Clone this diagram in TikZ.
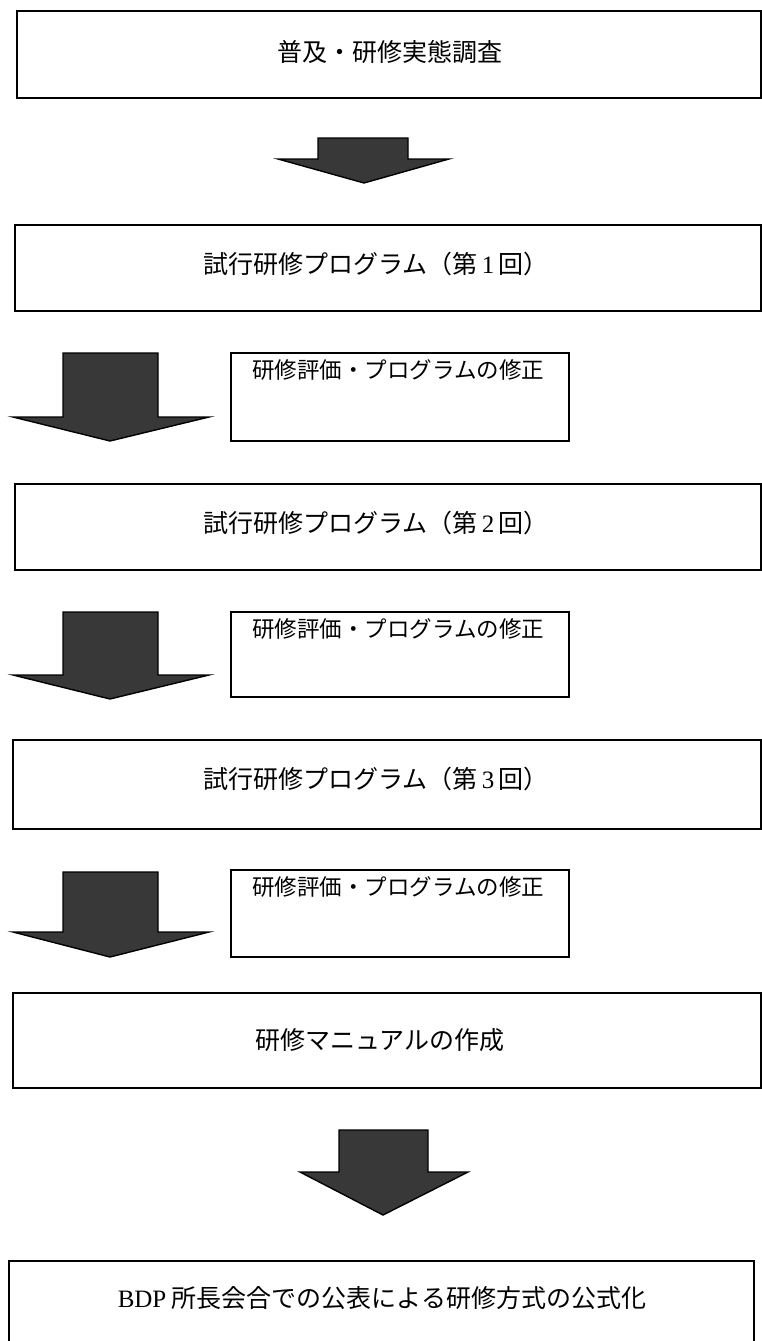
\documentclass[tikz,border=0pt]{standalone}
\usepackage{fontspec}
\setmainfont{Noto Sans CJK JP}
\newfontfamily\latn{Liberation Serif}
\begin{document}
\begin{tikzpicture}[x=1pt,y=-1pt,
  mainbox/.style={draw=black,line width=1.8pt,anchor=north west,inner sep=0pt},
  smallbox/.style={draw=black,line width=1.8pt,anchor=north west,inner sep=0pt},
  txt/.style={font=\fontsize{25}{28}\selectfont,inner sep=0pt},
  stxt/.style={font=\fontsize{22.5}{26}\selectfont,inner sep=0pt,anchor=west},
  fatarrow/.style={draw=black,line width=1.4pt,fill=black!78,line join=miter}]
\useasboundingbox (0,0) rectangle (762,1341);
% main boxes
\node[mainbox,minimum width=744pt,minimum height=87pt] (b1) at (16,10) {};
\node[txt] (t1) at (390,52) {普及・研修実態調査};
\node[mainbox,minimum width=746pt,minimum height=86pt] (b2) at (14,224) {};
\node[txt] (t2) at (376,264) {試行研修プログラム（第{\latn\,1\,}回）};
\node[mainbox,minimum width=746pt,minimum height=86pt] (b3) at (14,483) {};
\node[txt] (t3) at (376,523) {試行研修プログラム（第{\latn\,2\,}回）};
\node[mainbox,minimum width=748pt,minimum height=89pt] (b4) at (12,739) {};
\node[txt] (t4) at (376,779) {試行研修プログラム（第{\latn\,3\,}回）};
\node[mainbox,minimum width=748pt,minimum height=95pt] (b5) at (12,992) {};
\node[txt] (t5) at (380,1040) {研修マニュアルの作成};
\node[mainbox,minimum width=745pt,minimum height=100pt] (b6) at (8,1260) {};
\node[txt] (t6) at (382,1298) {{\latn BDP} 所長会合での公表による研修方式の公式化};
% small boxes
\node[smallbox,minimum width=338pt,minimum height=88pt] (s1) at (230,352) {};
\node[stxt] (u1) at (252,370) {研修評価・プログラムの修正};
\node[smallbox,minimum width=338pt,minimum height=85pt] (s2) at (230,611) {};
\node[stxt] (u2) at (252,629) {研修評価・プログラムの修正};
\node[smallbox,minimum width=338pt,minimum height=87pt] (s3) at (230,869) {};
\node[stxt] (u3) at (252,887) {研修評価・プログラムの修正};
% arrows
\draw[fatarrow] (318,138) -- (318,159) -- (278,159) -- (364,183) -- (449,159) -- (408,159) -- (408,138) -- cycle;
\draw[fatarrow] (63,353) -- (63,417) -- (13,417) -- (110,441) -- (209,417) -- (158,417) -- (158,353) -- cycle;
\draw[fatarrow] (63,612) -- (63,675) -- (13,675) -- (110,699) -- (209,675) -- (158,675) -- (158,612) -- cycle;
\draw[fatarrow] (63,872) -- (63,932) -- (13,932) -- (110,957) -- (209,932) -- (158,932) -- (158,872) -- cycle;
\draw[fatarrow] (339,1130) -- (339,1172) -- (300,1172) -- (383,1215) -- (468,1172) -- (428,1172) -- (428,1130) -- cycle;
\end{tikzpicture}
\end{document}
